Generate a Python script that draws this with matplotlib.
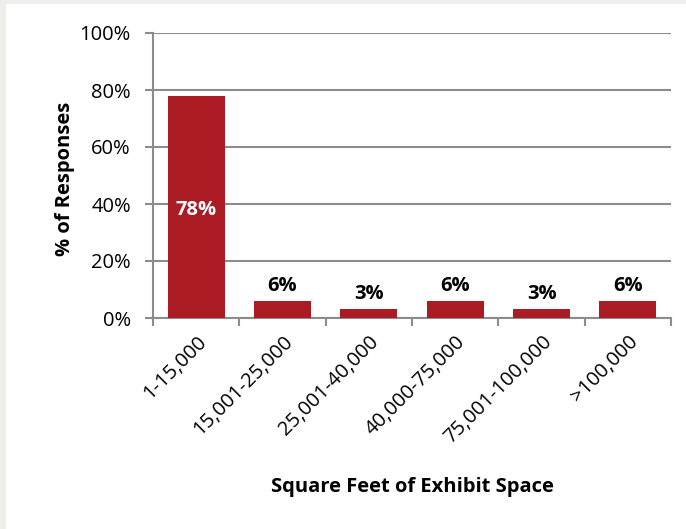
import matplotlib.pyplot as plt
from matplotlib.ticker import PercentFormatter

categories = ["1-15,000", "15,001-25,000", "25,001-40,000",
              "40,000-75,000", "75,001-100,000", ">100,000"]
shares = [78, 6, 3, 6, 3, 6]
yticks = [0, 20, 40, 60, 80, 100]

plt.rcParams['font.family'] = ['Open Sans', 'DejaVu Sans']
FS = 14.5

fig = plt.figure(figsize=(6.86, 5.29), dpi=100, facecolor='#eeeeec')
# white panel inside the grey frame
panel = plt.Rectangle((6 / 686, 0), 1, 1 - 4 / 529,
                      transform=fig.transFigure, facecolor='white',
                      edgecolor='none', zorder=-10)
fig.add_artist(panel)
ax = fig.add_axes([153 / 686, 1 - 318 / 529, 518 / 686, 285 / 529])
ax.set_facecolor('white')

x = range(len(categories))
bars = ax.bar(x, shares, width=0.66, color='#ab1b23', zorder=3)

for b, v in zip(bars, shares):
    if v > 20:
        ax.text(b.get_x() + b.get_width() / 2, 38, f"{v}%", ha='center',
                va='center', color='white', fontsize=FS, fontweight='bold')
    else:
        ax.text(b.get_x() + b.get_width() / 2, v + 1.8, f"{v}%", ha='center',
                va='bottom', color='black', fontsize=FS, fontweight='bold')

ax.set_xlim(-0.5, len(categories) - 0.5)
ax.set_ylim(0, 100)
ax.set_yticks(yticks)
ax.yaxis.set_major_formatter(PercentFormatter(decimals=0))
ax.yaxis.grid(True, color='#8c8c8c', linewidth=1.5, zorder=1)
ax.set_axisbelow(True)

ax.set_xticks([i - 0.5 for i in range(len(categories) + 1)])
ax.set_xticklabels([])
ax.set_xticks(list(x), minor=True)
ax.set_xticklabels(categories, minor=True, rotation=45, ha='right',
                   rotation_mode='anchor', fontsize=FS)
ax.tick_params(axis='x', which='minor', length=0, pad=10)
ax.tick_params(axis='x', which='major', length=6, width=1.5, color='#8c8c8c')
ax.tick_params(axis='y', length=6, width=1.5, color='#8c8c8c',
               labelsize=FS, pad=10)

for side in ['top', 'right']:
    ax.spines[side].set_visible(False)
for side in ['left', 'bottom']:
    ax.spines[side].set_color('#8c8c8c')
    ax.spines[side].set_linewidth(1.5)

ax.set_ylabel("% of Responses", fontsize=FS, fontweight='bold')
ax.yaxis.set_label_coords(-0.17, 0.488)
ax.set_xlabel("Square Feet of Exhibit Space", fontsize=FS, fontweight='bold')
ax.xaxis.set_label_coords(0.5, -0.593)
ax.xaxis.label.set_va('center')
ax.yaxis.label.set_va('center')

fig.savefig("out.png", dpi=100, facecolor=fig.get_facecolor())
